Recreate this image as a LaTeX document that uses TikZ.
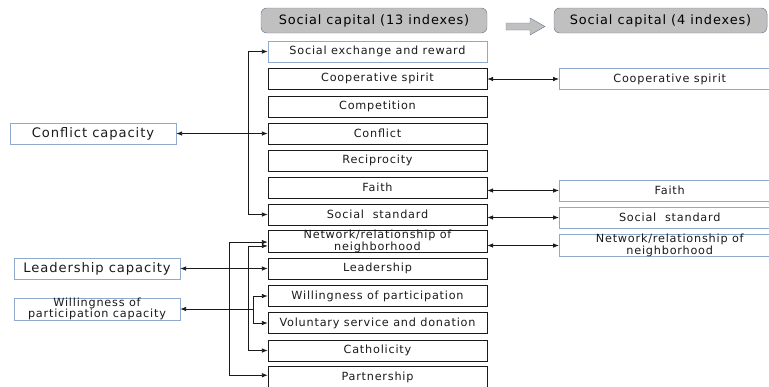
\documentclass[tikz,border=0pt]{standalone}
\usepackage{fontspec}
\setmainfont{DejaVu Sans}[LetterSpace=7]
\usetikzlibrary{arrows.meta}
\definecolor{hdrfill}{HTML}{C0C0C0}
\definecolor{hdrline}{HTML}{6F7F95}
\definecolor{boxblue}{HTML}{8EAACC}
\definecolor{ink}{HTML}{1A1A1A}

\begin{document}
\begin{tikzpicture}[x=0.03cm,y=-0.03cm,>={Latex[length=5pt,width=3.8pt]},
  every node/.style={font=\fontsize{9.6}{9.8}\selectfont,inner sep=0pt,text=ink,align=center},
  idx/.style={draw=ink,minimum width=6.57cm,minimum height=0.63cm},
  idxb/.style={idx,draw=boxblue},
  keep/.style={draw=boxblue,anchor=west,minimum width=6.63cm,minimum height=0.63cm},
  capbox/.style={draw=boxblue,minimum width=4.98cm,minimum height=0.63cm,font=\fontsize{11.2}{12}\selectfont},
  hdr/.style={draw=hdrline,fill=hdrfill,rounded corners=5pt,minimum width=6.78cm,minimum height=0.75cm,font=\fontsize{11}{12}\selectfont,text=black},
  link/.style={draw=ink,line width=0.6pt}]
\useasboundingbox (0,0) rectangle (769,386);

% headers
\node[hdr] (h13) at (374,20.5) {Social capital (13 indexes)};
\node[hdr,minimum width=6.39cm] (h4) at (660.5,20.5) {Social capital (4 indexes)};
\draw[draw=hdrline,fill=hdrfill] (506,23) -- (530,23) -- (530,18) -- (545,26.5) -- (530,35) -- (530,30) -- (506,30) -- cycle;

% 13 indexes
\node[idxb] (r1) at (377.5,51.5) {Social exchange and reward};
\node[idx] (r2) at (377.5,78.5) {Cooperative spirit};
\node[idx] (r3) at (377.5,106.5) {Competition};
\node[idx] (r4) at (377.5,133.5) {Conflict};
\node[idx] (r5) at (377.5,160.5) {Reciprocity};
\node[idx] (r6) at (377.5,187.5) {Faith};
\node[idx] (r7) at (377.5,214.5) {Social~~standard};
\node[idx] (r8) at (377.5,241.5) {Network/relationship of\\neighborhood};
\node[idx] (r9) at (377.5,268.5) {Leadership};
\node[idx] (r10) at (377.5,296) {Willingness of participation};
\node[idx] (r11) at (377.5,323) {Voluntary service and donation};
\node[idx] (r12) at (377.5,350.5) {Catholicity};
\node[idx] (r13) at (377.5,377) {Partnership};

% 4 indexes
\node[keep] (k2) at (559,79) {Cooperative spirit};
\node[keep] (k6) at (559,190.5) {Faith};
\node[keep] (k7) at (559,217.5) {Social~~standard};
\node[keep] (k8) at (559,245.5) {Network/relationship of\\neighborhood};

% capacities
\node[capbox] (cc) at (93,133.5) {Conflict capacity};
\node[capbox] (lc) at (97,268.5) {Leadership capacity};
\node[capbox,minimum height=0.66cm,font=\fontsize{9.6}{9.8}\selectfont] (wc) at (97,309) {Willingness of\\participation capacity};

\coordinate (b1) at (248,0);
\coordinate (b2) at (229,0);
\coordinate (b3) at (253,0);

% connectors
\draw[link,<->] (r1.west) -- (r1.west -| b1) -- (r7.west -| b1) -- (r7.west);
\draw[link,<->] (cc.east) -- (r4.west);
\draw[link,<->] (r2.east |- k2.west) -- (k2.west);
\draw[link,<->] (r6.east |- k6.west) -- (k6.west);
\draw[link,<->] (r7.east |- k7.west) -- (k7.west);
\draw[link,<->] (r8.east |- k8.west) -- (k8.west);

\draw[link,<->] ([yshift=-0.5pt]r8.west) -- ([yshift=-0.5pt]r8.west -| b2) -- ([yshift=1.5pt]r13.west -| b2) -- ([yshift=1.5pt]r13.west);
\draw[link,<->] ([yshift=-3.8pt]r8.west) -- ([yshift=-3.8pt]r8.west -| b1) -- (r12.west -| b1) -- (r12.west);
\draw[link,<->] (lc.east) -- (r9.west);
\draw[link,<->] (r10.west) -- (r10.west -| b3) -- (r11.west -| b3) -- (r11.west);
\draw[link,->] (b3 |- wc.east) -- (wc.east);
\end{tikzpicture}
\end{document}
